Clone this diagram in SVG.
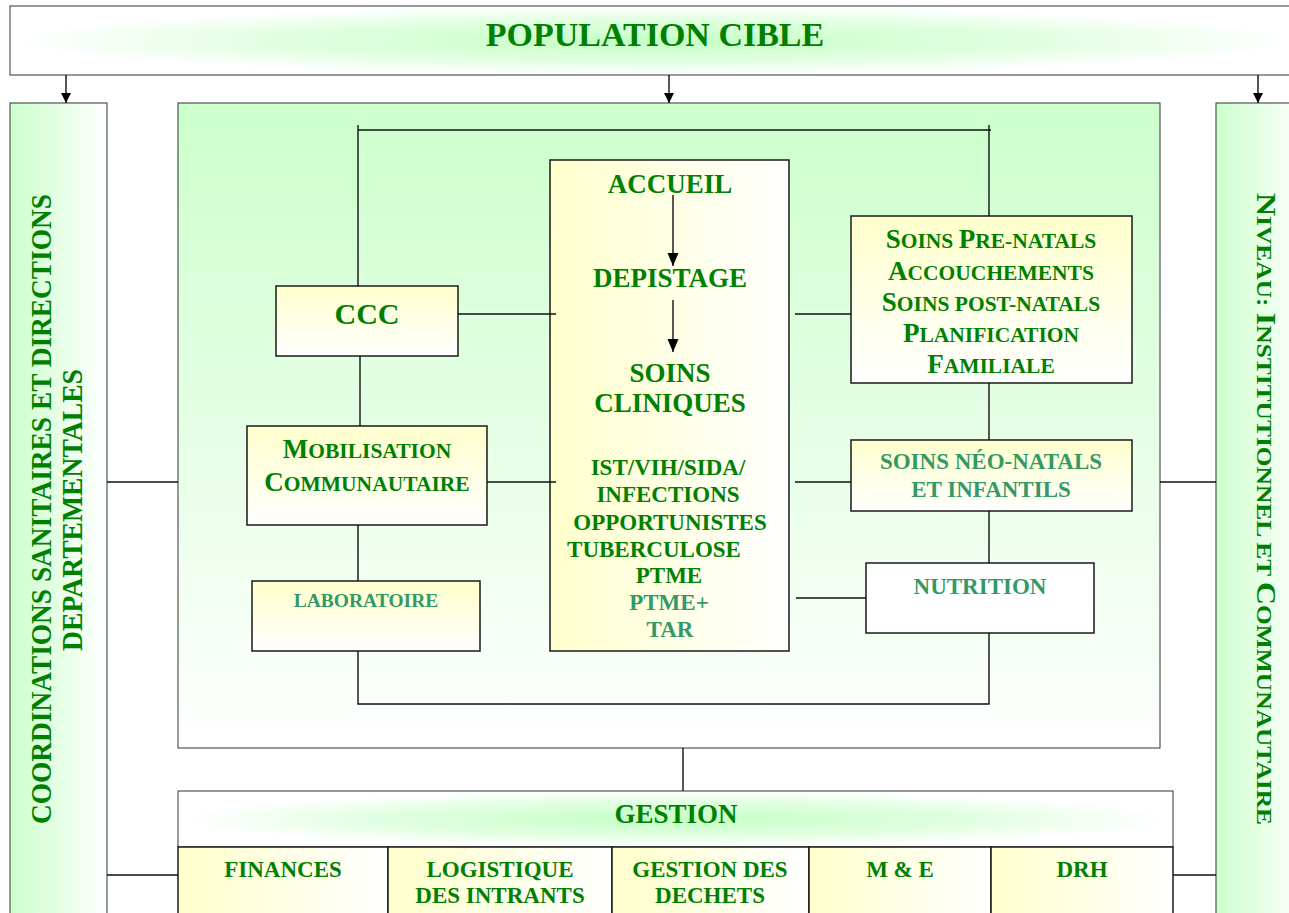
<svg xmlns="http://www.w3.org/2000/svg" width="1289" height="913" viewBox="0 0 1289 913">
<defs>
<radialGradient id="rg" cx="50%" cy="50%" r="50%"><stop offset="0" stop-color="#c4ffc4"/><stop offset="0.6" stop-color="#e2ffe2"/><stop offset="1" stop-color="#ffffff"/></radialGradient>
<linearGradient id="gh" x1="0" y1="0" x2="1" y2="0"><stop offset="0" stop-color="#ccffcc"/><stop offset="1" stop-color="#ffffff"/></linearGradient>
<linearGradient id="gv" x1="0" y1="0" x2="0" y2="1"><stop offset="0" stop-color="#ccffcc"/><stop offset="1" stop-color="#ffffff"/></linearGradient>
<linearGradient id="yv" x1="0" y1="0" x2="0" y2="1"><stop offset="0" stop-color="#ffffcc"/><stop offset="1" stop-color="#ffffff"/></linearGradient>
<linearGradient id="yh" x1="0" y1="0" x2="1" y2="0"><stop offset="0" stop-color="#ffffcc"/><stop offset="1" stop-color="#ffffff"/></linearGradient>
<marker id="ah" markerUnits="userSpaceOnUse" markerWidth="10" markerHeight="12" viewBox="0 0 10 12" refX="10" refY="6" orient="auto"><path d="M0,1 L10,6 L0,11 Z" fill="#000"/></marker>
<marker id="ahb" markerUnits="userSpaceOnUse" markerWidth="13" markerHeight="13" viewBox="0 0 13 13" refX="13" refY="6.5" orient="auto"><path d="M0,1 L13,6.5 L0,12 Z" fill="#000"/></marker>
</defs>
<style>
.bx{stroke:#1a1a1a;stroke-width:1.5}
.thin{stroke:#333;stroke-width:1}
.ln{stroke:#111;stroke-width:1.4;fill:none}
.t{font-family:"Liberation Serif","Times New Roman",serif;font-weight:bold;fill:#008000;text-anchor:middle}
.lt{fill:#339966}
.b{font-size:27px}
.s{font-size:21.5px}
</style>
<rect width="1289" height="913" fill="#ffffff"/>

<g id="population-cible">
<rect x="10" y="6" width="1290" height="69" fill="url(#rg)" class="thin"/>
<text class="t" x="655" y="46" font-size="34">POPULATION CIBLE</text>
</g>

<g id="coordinations">
<rect x="10" y="103" width="97" height="830" fill="url(#gh)" class="thin"/>
<text class="t" transform="translate(51,509) rotate(-90)" font-size="29" textLength="630" lengthAdjust="spacingAndGlyphs">COORDINATIONS SANITAIRES ET DIRECTIONS</text>
<text class="t" transform="translate(82,510) rotate(-90)" font-size="29" textLength="282" lengthAdjust="spacingAndGlyphs">DEPARTEMENTALES</text>
</g>

<g id="niveau">
<rect x="1216" y="103" width="90" height="830" fill="url(#gh)" class="thin"/>
<text class="t" transform="translate(1257,509) rotate(90)" textLength="632" lengthAdjust="spacingAndGlyphs"><tspan class="b" font-size="28">N</tspan><tspan class="s" font-size="22">IVEAU: </tspan><tspan class="b" font-size="28">I</tspan><tspan class="s" font-size="22">NSTITUTIONNEL ET </tspan><tspan class="b" font-size="28">C</tspan><tspan class="s" font-size="22">OMMUNAUTAIRE</tspan></text>
</g>

<g id="services">
<rect x="178" y="103" width="982" height="645" fill="url(#gv)" class="thin"/>
</g>

<g id="ccc">
<rect x="276" y="286" width="182" height="70" fill="url(#yv)" class="bx"/>
<text class="t" x="367" y="324" font-size="30">CCC</text>
</g>

<g id="mobilisation">
<rect x="247" y="426" width="240" height="99" fill="url(#yv)" class="bx"/>
<text class="t" x="367" y="458"><tspan class="b">M</tspan><tspan class="s">OBILISATION</tspan></text>
<text class="t" x="367" y="491"><tspan class="b">C</tspan><tspan class="s">OMMUNAUTAIRE</tspan></text>
</g>

<g id="laboratoire">
<rect x="252" y="581" width="228" height="70" fill="url(#yv)" class="bx"/>
<text class="t lt" x="366" y="607" font-size="19.5">LABORATOIRE</text>
</g>

<g id="soins-cliniques">
<rect x="550" y="160" width="239" height="491" fill="url(#yh)" class="bx"/>
<text class="t" x="670" y="193" font-size="27">ACCUEIL</text>
<text class="t" x="670" y="287" font-size="27">DEPISTAGE</text>
<text class="t" x="670" y="382" font-size="27">SOINS</text>
<text class="t" x="670" y="412" font-size="27">CLINIQUES</text>
<text class="t" x="668" y="475" font-size="23">IST/VIH/SIDA/</text>
<text class="t" x="668" y="502" font-size="23">INFECTIONS</text>
<text class="t" x="670" y="530" font-size="23">OPPORTUNISTES</text>
<text class="t" x="654" y="557" font-size="23">TUBERCULOSE</text>
<text class="t" x="669" y="583" font-size="23">PTME</text>
<text class="t lt" x="669" y="610" font-size="23">PTME+</text>
<text class="t lt" x="670" y="637" font-size="23">TAR</text>
</g>

<g id="soins-prenatals">
<rect x="851" y="216" width="281" height="167" fill="url(#yv)" class="bx"/>
<text class="t" x="991" y="248"><tspan class="b">S</tspan><tspan class="s">OINS </tspan><tspan class="b">P</tspan><tspan class="s">RE-NATALS</tspan></text>
<text class="t" x="991" y="280"><tspan class="b">A</tspan><tspan class="s">CCOUCHEMENTS</tspan></text>
<text class="t" x="991" y="311"><tspan class="b">S</tspan><tspan class="s">OINS POST-NATALS</tspan></text>
<text class="t" x="991" y="342"><tspan class="b">P</tspan><tspan class="s">LANIFICATION</tspan></text>
<text class="t" x="991" y="373"><tspan class="b">F</tspan><tspan class="s">AMILIALE</tspan></text>
</g>

<g id="soins-neonatals">
<rect x="851" y="440" width="281" height="71" fill="url(#yv)" class="bx"/>
<text class="t lt" x="991" y="469" font-size="23">SOINS NÉO-NATALS</text>
<text class="t lt" x="991" y="497" font-size="23">ET INFANTILS</text>
</g>

<g id="nutrition">
<rect x="866" y="563" width="228" height="70" fill="#ffffff" class="bx"/>
<text class="t lt" x="980" y="594" font-size="23">NUTRITION</text>
</g>

<g id="gestion">
<rect x="178" y="791" width="995" height="56" fill="url(#rg)" class="thin"/>
<text class="t" x="676" y="823" font-size="27">GESTION</text>
</g>

<g id="finances">
<rect x="178" y="847" width="210" height="80" fill="url(#yh)" class="bx"/>
<text class="t" x="283" y="877" font-size="23">FINANCES</text>
</g>
<g id="logistique">
<rect x="388" y="847" width="224" height="80" fill="url(#yh)" class="bx"/>
<text class="t" x="500" y="877" font-size="23">LOGISTIQUE</text>
<text class="t" x="500" y="903" font-size="23">DES INTRANTS</text>
</g>
<g id="dechets">
<rect x="612" y="847" width="197" height="80" fill="url(#yh)" class="bx"/>
<text class="t" x="710" y="877" font-size="23">GESTION DES</text>
<text class="t" x="710" y="903" font-size="23">DECHETS</text>
</g>
<g id="me">
<rect x="809" y="847" width="182" height="80" fill="url(#yh)" class="bx"/>
<text class="t" x="900" y="877" font-size="23">M &amp; E</text>
</g>
<g id="drh">
<rect x="991" y="847" width="182" height="80" fill="url(#yh)" class="bx"/>
<text class="t" x="1082" y="877" font-size="23">DRH</text>
</g>

<g id="connectors">
<line class="ln" x1="66" y1="75" x2="66" y2="103" marker-end="url(#ah)"/>
<line class="ln" x1="669" y1="75" x2="669" y2="103" marker-end="url(#ah)"/>
<line class="ln" x1="1258" y1="75" x2="1258" y2="103" marker-end="url(#ah)"/>
<line class="ln" x1="673" y1="195" x2="673" y2="266" marker-end="url(#ahb)"/>
<line class="ln" x1="673" y1="300" x2="673" y2="352" marker-end="url(#ahb)"/>
<path class="ln" d="M358,125 V286 M358,130 H991 M989,125 V216"/>
<path class="ln" d="M360,356 V426 M358,525 V581 M358,651 V704 H989 V633"/>
<path class="ln" d="M989,383 V440 M989,511 V563"/>
<path class="ln" d="M458,314 H556 M487,482 H556 M795,314 H851 M795,482 H851 M796,598 H866"/>
<path class="ln" d="M107,482 H178 M1160,482 H1216 M107,875 H178 M1173,875 H1216 M683,748 V791"/>
</g>
</svg>
